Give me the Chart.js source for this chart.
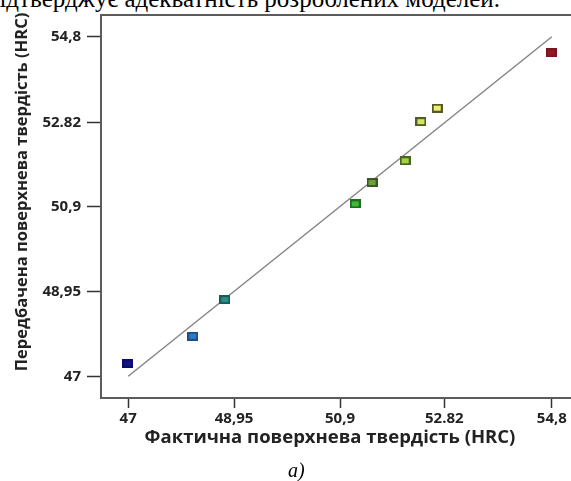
<!DOCTYPE html>
<html>
<head>
<meta charset="utf-8">
<script src="https://cdn.jsdelivr.net/npm/chart.js@4"></script>
<style>
  html, body { margin: 0; padding: 0; background: #fff; overflow: hidden; }
  #wrap { position: relative; width: 571px; height: 481px; overflow: hidden; }
  #c { position: absolute; left: 0; top: 0; }
  .lead { position: absolute; left: -14px; width: 514px; top: -14px; font: 25px/25px "Liberation Serif", "Times New Roman", serif; color: #000; white-space: nowrap; text-align: justify; text-align-last: justify; }
  .caption { position: absolute; left: 288px; top: 460px; font: italic 20px/20px "Liberation Serif", "Times New Roman", serif; color: #000; }
</style>
</head>
<body>
<div id="wrap">
  <div class="lead">підтверджує адекватність розроблених моделей.</div>
  <canvas id="c" width="600" height="481"></canvas>
  <div class="caption">a)</div>
</div>
<script>
// Tick positions and their printed labels (same on both axes)
const tickValues = [47, 48.95, 50.9, 52.82, 54.8];
const tickLabels = ['47', '48,95', '50,9', '52.82', '54,8'];

// Actual vs. predicted surface hardness, HRC
const actualHRC    = [46.99, 48.19, 48.78, 51.18, 51.49, 52.10, 52.39, 52.69, 54.79];
const predictedHRC = [47.30, 47.92, 48.76, 50.96, 51.45, 51.95, 52.85, 53.16, 54.43];

// Marker colours, low → high hardness
const markerFill = ['#12128c', '#2f7cc4', '#2a8f88', '#3cba3c', '#6fa03c', '#a2d444', '#d2e466', '#ecee78', '#8e1a26'];
const markerEdge = ['#0c0c66', '#1c4f88', '#195c57', '#1f6e1f', '#3b5822', '#4c6422', '#535c22', '#575a22', '#7a1520'];

// Reference line y = x
const fitLineX = [47, 54.8];
const fitLineY = [47, 54.8];

const xTitle = 'Фактична поверхнева твердість (HRC)';
const yTitle = 'Передбачена поверхнева твердість (HRC)';

function makeMarker(fill, edge) {
  const c = document.createElement('canvas');
  c.width = 11; c.height = 9;
  const g = c.getContext('2d');
  g.fillStyle = edge; g.fillRect(0, 0, 11, 9);
  g.fillStyle = fill; g.fillRect(2, 2, 7, 5);
  return c;
}
const markers = markerFill.map((f, i) => makeMarker(f, markerEdge[i]));

const framePlugin = {
  id: 'frame',
  beforeDatasetsDraw(chart) {
    const { ctx, chartArea: a } = chart;
    ctx.save();
    ctx.strokeStyle = '#5c5c5c';
    ctx.lineWidth = 2;
    ctx.strokeRect(a.left, a.top, a.right - a.left, a.bottom - a.top);
    ctx.restore();
  }
};

const titlePlugin = {
  id: 'axisTitles',
  afterDraw(chart) {
    const { ctx } = chart;
    ctx.save();
    ctx.fillStyle = '#222';
    ctx.textAlign = 'center';
    ctx.textBaseline = 'middle';
    ctx.font = 'bold 18.5px "Open Sans"';
    ctx.fillText(xTitle, 330, 438);
    ctx.translate(22, 192);
    ctx.rotate(-Math.PI / 2);
    ctx.font = 'bold 16.5px "Open Sans"';
    ctx.fillText(yTitle, 0, 0);
    ctx.restore();
  }
};

const tickFont = { family: 'Open Sans', weight: 'bold', size: 15 };

function fixedTicks(scale) {
  scale.ticks = tickValues.map(v => ({ value: v }));
}

new Chart(document.getElementById('c'), {
  type: 'scatter',
  data: {
    datasets: [
      {
        data: fitLineX.map((x, i) => ({ x, y: fitLineY[i] })),
        showLine: true,
        borderColor: '#858585',
        borderWidth: 1.5,
        pointRadius: 0,
        order: 2
      },
      {
        data: actualHRC.map((x, i) => ({ x, y: predictedHRC[i] })),
        showLine: false,
        pointStyle: markers,
        pointRadius: 5,
        order: 1
      }
    ]
  },
  options: {
    responsive: false,
    animation: false,
    devicePixelRatio: 1,
    layout: { padding: { left: 0, right: 21, top: 13, bottom: 0 } },
    plugins: { legend: { display: false }, tooltip: { enabled: false } },
    scales: {
      x: {
        type: 'linear',
        min: 46.5,
        max: 55.3,
        afterBuildTicks: fixedTicks,
        afterFit: s => { s.height = 83; },
        border: { display: false },
        grid: { drawOnChartArea: false, drawTicks: true, tickLength: 10, tickColor: '#333', tickWidth: 1.5 },
        ticks: {
          autoSkip: false, maxRotation: 0, padding: 2,
          color: '#222', font: tickFont,
          callback: (v, i) => tickLabels[i]
        }
      },
      y: {
        type: 'linear',
        min: 46.5,
        max: 55.3,
        afterBuildTicks: fixedTicks,
        afterFit: s => { s.width = 101; },
        border: { display: false },
        grid: { drawOnChartArea: false, drawTicks: true, tickLength: 14, tickColor: '#333', tickWidth: 1.5 },
        ticks: {
          autoSkip: false, padding: 6,
          color: '#222', font: tickFont,
          callback: (v, i) => tickLabels[i]
        }
      }
    }
  },
  plugins: [framePlugin, titlePlugin]
});
</script>
</body>
</html>
